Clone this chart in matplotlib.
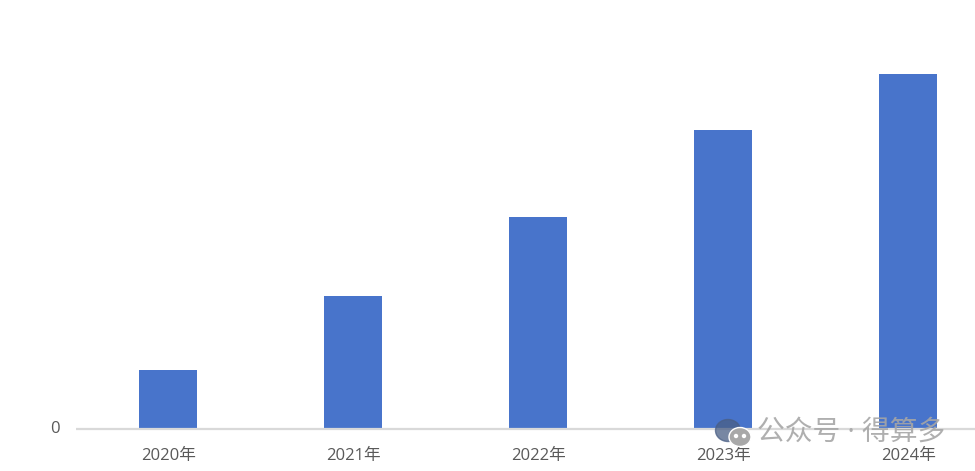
import matplotlib
matplotlib.use("Agg")
import matplotlib.pyplot as plt
from matplotlib.patches import Ellipse

plt.rcParams['font.family'] = ['Open Sans', 'Noto Sans CJK SC', 'DejaVu Sans']

categories = ["2020年", "2021年", "2022年", "2023年", "2024年"]
values = [59, 133, 212, 299, 355]
y_ticks = [0]
watermark = "公众号 · 得算多"

W, H = 975, 471
fig = plt.figure(figsize=(W / 100, H / 100), dpi=100, facecolor="white")
L, R, T, B = 76, 975, 0, 429
ax = fig.add_axes([L / W, 1 - B / H, (R - L) / W, (B - T) / H])
ax.bar(range(len(categories)), values, width=58 / 185, color="#4874CB", zorder=2)
ax.set_xlim(-0.5, 4.36)
ax.set_ylim(0, 429)
for s in ["top", "left", "right"]:
    ax.spines[s].set_visible(False)
ax.spines["bottom"].set_color("#D9D9D9")
ax.spines["bottom"].set_linewidth(1.6)
ax.spines["bottom"].set_capstyle("butt")
ax.set_xticks(range(len(categories)), categories)
ax.set_yticks(y_ticks)
ax.tick_params(length=0)
ax.tick_params(axis="x", labelsize=12, labelcolor="#595959", pad=13.5)
ax.tick_params(axis="y", labelsize=12, labelcolor="#595959", pad=12)
for t in ax.get_yticklabels():
    t.set_y(0)
    t.set_verticalalignment("center")

fig.text(851.5 / W, 1 - 433 / H, watermark, fontsize=20, color="#A6A6A6", alpha=0.9,
         ha="center", va="center", zorder=5)
tf = fig.transFigure
fig.add_artist(Ellipse((728 / W, 1 - 430.5 / H), 25 / W, 22 / H, color="#4A5F85", alpha=0.75, transform=tf))
fig.add_artist(Ellipse((740 / W, 1 - 437 / H), 22 / W, 19 / H, facecolor="#A8A8A8", edgecolor="white", linewidth=1, transform=tf))
for dx in (-4, 4):
    fig.add_artist(Ellipse(((740 + dx) / W, 1 - 436 / H), 3 / W, 3 / H, color="white", transform=tf))

fig.savefig("out.png", dpi=100)
